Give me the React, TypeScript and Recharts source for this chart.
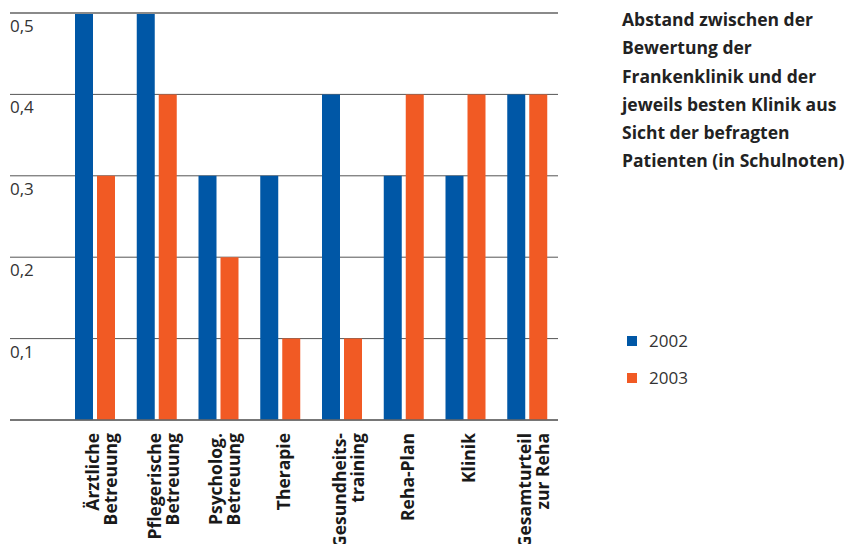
import React from "react";
import {
  BarChart,
  Bar,
  XAxis,
  YAxis,
  CartesianGrid,
  ReferenceLine,
} from "recharts";

const categories = [
  "Ärztliche\nBetreuung",
  "Pflegerische\nBetreuung",
  "Psycholog.\nBetreuung",
  "Therapie",
  "Gesundheits-\ntraining",
  "Reha-Plan",
  "Klinik",
  "Gesamturteil\nzur Reha",
];
const values2002 = [0.5, 0.5, 0.3, 0.3, 0.4, 0.3, 0.3, 0.4];
const values2003 = [0.3, 0.4, 0.2, 0.1, 0.1, 0.4, 0.4, 0.4];
const yTicks = [0, 0.1, 0.2, 0.3, 0.4, 0.5];
const titleLines = [
  "Abstand zwischen der",
  "Bewertung der",
  "Frankenklinik und der",
  "jeweils besten Klinik aus",
  "Sicht der befragten",
  "Patienten (in Schulnoten)",
];
const legendItems = [
  { label: "2002", color: "#0057A6" },
  { label: "2003", color: "#F15A24" },
];

const data = categories.map((name, i) => ({
  name,
  y2002: values2002[i],
  y2003: values2003[i],
}));

const FONT = "'Open Sans', sans-serif";

function CategoryTick(props: any) {
  const { x, y, payload } = props;
  const lines = String(payload.value).split("\n");
  const offsets = lines.length === 1 ? [10] : [4, 22];
  return (
    <g transform={`translate(${x}, ${y + 5}) rotate(-90)`}>
      <text
        textAnchor="end"
        fontFamily={FONT}
        fontWeight={700}
        fontSize={17.5}
        fill="#1a1a1a"
      >
        {lines.map((line, i) => (
          <tspan key={i} x={0} y={offsets[i]}>
            {line}
          </tspan>
        ))}
      </text>
    </g>
  );
}

function ValueTick(props: any) {
  const { y, payload } = props;
  if (payload.value === 0) return null;
  return (
    <text
      x={10}
      y={y + 19}
      textAnchor="start"
      fontFamily={FONT}
      fontSize={17}
      fill="#333"
    >
      {Number(payload.value).toFixed(1).replace(".", ",")}
    </text>
  );
}

export default function App() {
  return (
    <div
      style={{
        position: "absolute",
        left: 0,
        top: 0,
        width: 853,
        height: 544,
        background: "#fff",
      }}
    >
      <BarChart
        width={853}
        height={544}
        data={data}
        margin={{ top: 13, right: 295, bottom: 0, left: 10 }}
        barSize={18}
        barGap={4}
      >
        <CartesianGrid vertical={false} stroke="#555" strokeWidth={1} />
        <XAxis
          dataKey="name"
          interval={0}
          height={124}
          padding={{ left: 54, right: 0 }}
          axisLine={{ stroke: "#666", strokeWidth: 1.5 }}
          tickLine={false}
          tick={<CategoryTick />}
        />
        <YAxis
          mirror
          domain={[0, 0.5]}
          ticks={yTicks}
          axisLine={false}
          tickLine={false}
          tick={<ValueTick />}
        />
        <ReferenceLine y={0.5} stroke="#8a8a8a" strokeWidth={2} />
        <Bar dataKey="y2002" fill={legendItems[0].color} isAnimationActive={false} />
        <Bar dataKey="y2003" fill={legendItems[1].color} isAnimationActive={false} />
      </BarChart>

      <div
        style={{
          position: "absolute",
          left: 622,
          top: 5,
          fontFamily: FONT,
          fontWeight: 700,
          fontSize: 17.5,
          lineHeight: "28.3px",
          color: "#222",
          whiteSpace: "nowrap",
        }}
      >
        {titleLines.map((t, i) => (
          <div key={i}>{t}</div>
        ))}
      </div>

      <div
        style={{
          position: "absolute",
          left: 627,
          top: 322,
          fontFamily: FONT,
          fontSize: 17,
          color: "#333",
        }}
      >
        {legendItems.map((item) => (
          <div
            key={item.label}
            style={{ display: "flex", alignItems: "center", height: 37 }}
          >
            <span
              style={{
                display: "inline-block",
                width: 10,
                height: 10,
                background: item.color,
                marginRight: 12,
              }}
            />
            {item.label}
          </div>
        ))}
      </div>
    </div>
  );
}
